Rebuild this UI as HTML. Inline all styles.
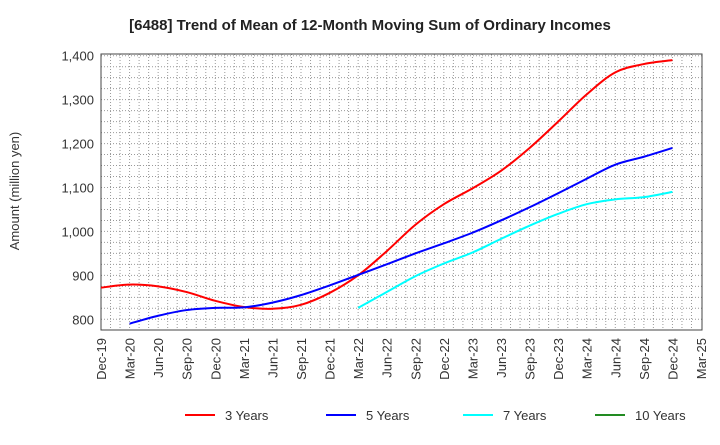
<!DOCTYPE html>
<html><head><meta charset="utf-8"><style>
body{margin:0;background:#fff;font-family:"Liberation Sans",Arial,sans-serif}
svg text{font-family:"Liberation Sans",Arial,sans-serif}
</style></head><body>
<svg id="chart" width="720" height="440" xmlns="http://www.w3.org/2000/svg">
<text x="370" y="30" text-anchor="middle" font-size="15" font-weight="bold" fill="#222">[6488]  Trend of Mean of 12-Month Moving Sum of Ordinary Incomes</text>
<text transform="translate(19,191) rotate(-90)" text-anchor="middle" font-size="13" fill="#333">Amount (million yen)</text>
<g id="grid"></g>
<g id="axes"></g>
<g id="series"></g>
<g id="legend"></g>
</svg>
<script>
const xLabels=["Dec-19","Mar-20","Jun-20","Sep-20","Dec-20","Mar-21","Jun-21","Sep-21","Dec-21","Mar-22","Jun-22","Sep-22","Dec-22","Mar-23","Jun-23","Sep-23","Dec-23","Mar-24","Jun-24","Sep-24","Dec-24","Mar-25"];
const yTicks=[800,900,1000,1100,1200,1300,1400];
const yTickLabels=["800","900","1,000","1,100","1,200","1,300","1,400"];
const seriesNames=["3 Years","5 Years","7 Years","10 Years"];
const seriesColors=["#ff0000","#0000ff","#00ffff","#228b22"];
const s3=[872,879,875,862,842,828,824,833,860,900,955,1015,1062,1098,1138,1190,1250,1312,1362,1381,1390];
const s5=[null,790,808,821,826,827,838,855,877,901,925,950,973,997,1025,1055,1087,1120,1152,1170,1190];
const s7=[null,null,null,null,null,null,null,null,null,826,862,898,927,952,983,1013,1040,1062,1073,1078,1090];
const s10=[];
const NS="http://www.w3.org/2000/svg";
const L=101,R=702,T=54,B=330,yMin=775.6,yMax=1403.9;
const xq=i=>L+i*3*(600/63);
const xm=m=>L+m*(600/63);
const y=v=>B-(v-yMin)/(yMax-yMin)*(B-T);
function mk(tag,attrs,parent){const e=document.createElementNS(NS,tag);for(const k in attrs)e.setAttribute(k,attrs[k]);parent.appendChild(e);return e;}
const grid=document.getElementById('grid'),axes=document.getElementById('axes'),ser=document.getElementById('series'),leg=document.getElementById('legend');
for(let m=1;m<63;m++){const l=mk('line',{x1:xm(m),x2:xm(m),y1:T,y2:B,stroke:'#999','stroke-dasharray':'1,2','stroke-width':1},grid);

}
for(let v=775;v<1405;v+=25){if(v<yMin)continue;const l=mk('line',{x1:L,x2:R,y1:y(v),y2:y(v),stroke:'#999','stroke-dasharray':'1,2','stroke-width':1},grid);

}
const fr=mk('rect',{x:L,y:T,width:R-L,height:B-T,fill:'none',stroke:'#444','stroke-width':1},axes);


yTicks.forEach((v,i)=>{const t=mk('text',{x:L-7,y:y(v)+5,'text-anchor':'end','font-size':13,fill:'#333'},axes);t.textContent=yTickLabels[i];

});
xLabels.forEach((s,i)=>{const t=mk('text',{transform:`translate(${xq(i)+5},${B+8}) rotate(-90)`,'text-anchor':'end','font-size':13,fill:'#333'},axes);t.textContent=s;

});
function path(arr){const pts=[];arr.forEach((v,i)=>{if(v!=null)pts.push([xq(i),y(v)]);});if(pts.length<2)return '';
let d=`M${pts[0][0]},${pts[0][1]}`;for(let i=0;i<pts.length-1;i++){const p0=pts[i-1]||pts[i],p1=pts[i],p2=pts[i+1],p3=pts[i+2]||p2;
d+=` C${p1[0]+(p2[0]-p0[0])/6},${p1[1]+(p2[1]-p0[1])/6} ${p2[0]-(p3[0]-p1[0])/6},${p2[1]-(p3[1]-p1[1])/6} ${p2[0]},${p2[1]}`;}return d;}
[s3,s5,s7,s10].forEach((arr,k)=>{const d=path(arr);if(!d)return;const p=mk('path',{d:d,fill:'none',stroke:seriesColors[k],'stroke-width':2},ser);

});
const lx=[185,326,463,595];
seriesNames.forEach((n,k)=>{const g=mk('g',{},leg);


mk('line',{x1:lx[k],x2:lx[k]+30,y1:415,y2:415,stroke:seriesColors[k],'stroke-width':2},g);
const t=mk('text',{x:lx[k]+40,y:420,'font-size':13,fill:'#333'},g);t.textContent=n;});
</script>
</body></html>
